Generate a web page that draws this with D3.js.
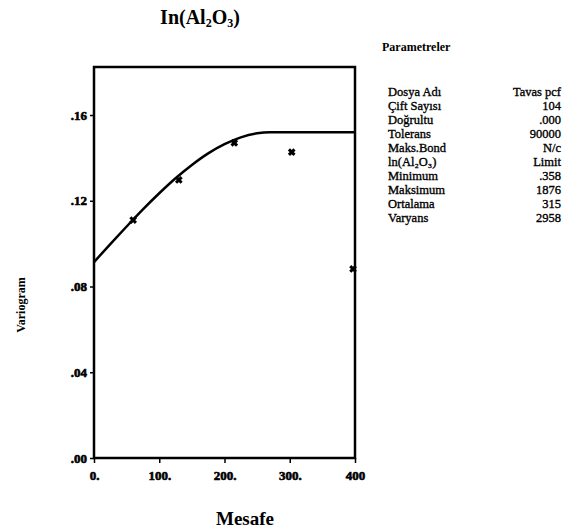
<!DOCTYPE html>
<html>
<head>
<meta charset="utf-8">
<script src="https://cdn.jsdelivr.net/npm/d3@7"></script>
<style>
  body { margin: 0; background: #fff; }
  svg { display: block; font-family: "Liberation Serif", "DejaVu Serif", serif; }
</style>
</head>
<body>
<svg id="chart" width="574" height="532"></svg>
<script>
// Data
const lagDist = [60, 130, 215, 303, 397];
const gamma = [0.111, 0.1297, 0.147, 0.1427, 0.0882];

// fitted model curve
const modelDist = [0, 25, 50, 75, 100, 125, 150, 175, 200, 225, 250, 270, 400];
const modelGamma = [0.0914, 0.0998, 0.108, 0.116, 0.1235, 0.1305, 0.1367, 0.1421, 0.1464, 0.1496, 0.1515, 0.152, 0.152];

const xTicks = [0, 100, 200, 300, 400];
const xTickLabels = ["0.", "100.", "200.", "300.", "400"];
const yTicks = [0, 0.04, 0.08, 0.12, 0.16];
const yTickLabels = [".00", ".04", ".08", ".12", ".16"];

const paramNames = ["Dosya Adı", "Çift Sayısı", "Doğrultu", "Tolerans", "Maks.Bond", "ln(Al₂O₃)", "Minimum", "Maksimum", "Ortalama", "Varyans"];
const paramValues = ["Tavas pcf", "104", ".000", "90000", "N/c", "Limit", ".358", "1876", "315", "2958"];

const svg = d3.select("#chart");

// plot box
const box = { left: 94, right: 355, top: 67, bottom: 458 };

const x = d3.scaleLinear().domain([0, 400]).range([box.left, box.right]);
const y = d3.scaleLinear().domain([0, 0.1824]).range([box.bottom, box.top]);

// title
svg.append("text")
  .attr("x", 200).attr("y", 24)
  .attr("text-anchor", "middle")
  .style("font-size", "20px").style("font-weight", "bold")
  .html('In(Al<tspan font-size="12" dy="3">2</tspan><tspan dy="-3">O</tspan><tspan font-size="12" dy="3">3</tspan><tspan dy="-3">)</tspan>');

// axes
const xAxis = svg.append("g")
  .attr("transform", `translate(0,${box.bottom})`)
  .call(d3.axisBottom(x).tickValues(xTicks).tickSize(5).tickFormat((d, i) => xTickLabels[i]));

const yAxis = svg.append("g")
  .attr("transform", `translate(${box.left},0)`)
  .call(d3.axisLeft(y).tickValues(yTicks).tickSize(4).tickFormat((d, i) => yTickLabels[i]));

[xAxis, yAxis].forEach(g => {
  g.select(".domain").remove();
  g.selectAll("line").attr("stroke", "#000").attr("stroke-width", 1.5);
  g.selectAll("text")
    .attr("fill", "#000")
    .attr("stroke", "#000").attr("stroke-width", 0.6)
    .style("font-family", "'Liberation Serif', serif")
    .style("font-size", "13px")
    .style("font-weight", "bold");
});
xAxis.selectAll("text").attr("dy", "1.05em");

// frame
svg.append("rect")
  .attr("x", box.left).attr("y", box.top)
  .attr("width", box.right - box.left).attr("height", box.bottom - box.top)
  .attr("fill", "none").attr("stroke", "#000").attr("stroke-width", 2.5);

// model curve
const line = d3.line()
  .x((d, i) => x(modelDist[i]))
  .y(d => y(d))
  .curve(d3.curveMonotoneX);

svg.append("path")
  .datum(modelGamma)
  .attr("d", line)
  .attr("fill", "none")
  .attr("stroke", "#000")
  .attr("stroke-width", 2.5);

// experimental points
svg.selectAll("path.pt")
  .data(lagDist)
  .enter()
  .append("path")
  .attr("class", "pt")
  .attr("transform", (d, i) => `translate(${x(d)},${y(gamma[i])})`)
  .attr("d", d3.symbol().type(d3.symbolX).size(22))
  .attr("fill", "none")
  .attr("stroke", "#000")
  .attr("stroke-width", 3);

// axis titles
svg.append("text")
  .attr("transform", `translate(25,305) rotate(-90)`)
  .attr("text-anchor", "middle")
  .style("font-size", "12px").style("font-weight", "bold")
  .text("Variogram");

svg.append("text")
  .attr("x", 245).attr("y", 525)
  .attr("text-anchor", "middle")
  .style("font-size", "19px").style("font-weight", "bold")
  .text("Mesafe");

// parameter panel
svg.append("text")
  .attr("x", 382).attr("y", 51)
  .style("font-size", "12px").style("font-weight", "bold")
  .text("Parametreler");

const rowY = d3.scaleLinear().domain([0, paramNames.length - 1]).range([96, 222]);

svg.selectAll("text.pname")
  .data(paramNames)
  .enter()
  .append("text")
  .attr("class", "pname")
  .attr("x", 388)
  .attr("y", (d, i) => rowY(i))
  .attr("stroke", "#000").attr("stroke-width", 0.35)
  .style("font-size", "12.5px")
  .text(d => d);

svg.selectAll("text.pval")
  .data(paramValues)
  .enter()
  .append("text")
  .attr("class", "pval")
  .attr("x", 561)
  .attr("y", (d, i) => rowY(i))
  .attr("text-anchor", "end")
  .attr("stroke", "#000").attr("stroke-width", 0.35)
  .style("font-size", "12.5px")
  .text(d => d);
</script>
</body>
</html>
